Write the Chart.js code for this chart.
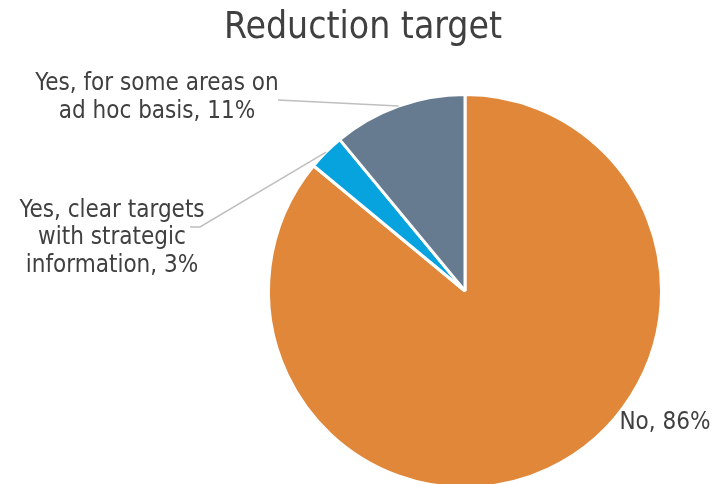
<!DOCTYPE html>
<html>
<head>
<meta charset="utf-8">
<title>Reduction target</title>
<script src="https://cdn.jsdelivr.net/npm/chart.js@4.4.1/dist/chart.umd.min.js"></script>
<style>
    html, body { margin: 0; padding: 0; background: #ffffff; overflow: hidden; }
    #wrap { position: relative; width: 716px; height: 492px; }
</style>
</head>
<body>
<div id="wrap"><canvas id="reduction-target"></canvas></div>
<script>
    // Answers to "Reduction target", in percent
    const categories = [
        "No",
        "Yes, clear targets with strategic information",
        "Yes, for some areas on ad hoc basis",
    ];
    const shares = [86, 3, 11];
    const labelLines = [
        ["No, 86%"],
        ["Yes, clear targets", "with strategic", "information, 3%"],
        ["Yes, for some areas on", "ad hoc basis, 11%"],
    ];
    const sliceColors = ["#E0873A", "#06A3DF", "#667B8F"];
    const chartTitle = "Reduction target";

    const FONT = "'Liberation Sans Narrow', 'DejaVu Sans Condensed', sans-serif";

    // Label placement relative to the pie centre, plus leader line bends
    const labelPlacement = [
        { dx: 200, dy: 132, leader: null },
        { dx: -353, dy: -53, leader: { bendDx: -265, bendDy: -64, endDx: -275 } },
        { dx: -308, dy: -193, leader: { bendDx: -187, bendDy: -191, endDx: -187 } },
    ];

    const sliceLabels = {
        id: "sliceLabels",
        afterDatasetsDraw(chart) {
            const ctx = chart.ctx;
            const arcs = chart.getDatasetMeta(0).data;
            ctx.save();
            arcs.forEach((arc, i) => {
                const place = labelPlacement[i];
                const cx = arc.x, cy = arc.y;
                const mid = (arc.startAngle + arc.endAngle) / 2;
                const ex = cx + Math.cos(mid) * arc.outerRadius;
                const ey = cy + Math.sin(mid) * arc.outerRadius;
                if (place.leader) {
                    ctx.strokeStyle = "#BFBFBF";
                    ctx.lineWidth = 1.5;
                    ctx.beginPath();
                    ctx.moveTo(ex, ey);
                    ctx.lineTo(cx + place.leader.bendDx, cy + place.leader.bendDy);
                    ctx.lineTo(cx + place.leader.endDx, cy + place.leader.bendDy);
                    ctx.stroke();
                }
                ctx.fillStyle = "#404040";
                ctx.font = "24px " + FONT;
                ctx.textAlign = "center";
                ctx.textBaseline = "middle";
                const lines = labelLines[i];
                const lh = 27.5;
                const y0 = cy + place.dy - (lines.length - 1) * lh / 2;
                lines.forEach((t, k) => ctx.fillText(t, cx + place.dx, y0 + k * lh));
            });

            // title sits a little right of the canvas middle
            ctx.font = "37px " + FONT;
            ctx.textAlign = "center";
            ctx.textBaseline = "middle";
            ctx.fillStyle = "#404040";
            ctx.fillText(chartTitle, chart.width / 2 + 5, 28);
            ctx.restore();
        },
    };

    const chart = new Chart(document.getElementById("reduction-target"), {
        type: "pie",
        data: {
            labels: categories,
            datasets: [
                {
                    data: shares,
                    backgroundColor: sliceColors,
                    borderColor: "#ffffff",
                    borderWidth: 3,
                },
            ],
        },
        options: {
            responsive: true,
            maintainAspectRatio: false,
            animation: false,
            layout: {
                padding: { top: 93, bottom: 3, left: 267, right: 53 },
            },
            plugins: {
                legend: { display: false },
                tooltip: { enabled: false },
                title: { display: false },
            },
        },
        plugins: [sliceLabels],
    });
</script>
</body>
</html>
